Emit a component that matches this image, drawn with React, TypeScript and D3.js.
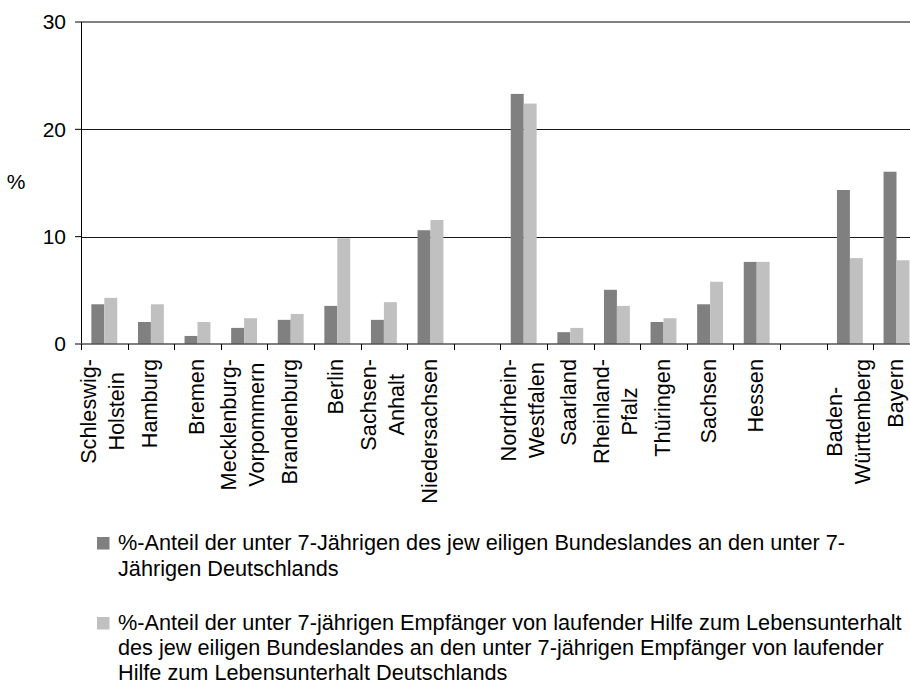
import React, { useEffect, useRef } from "react";
import * as d3 from "d3";

const categories: string[][] = [
  ["Schleswig-", "Holstein"],
  ["Hamburg"],
  ["Bremen"],
  ["Mecklenburg-", "Vorpommern"],
  ["Brandenburg"],
  ["Berlin"],
  ["Sachsen-", "Anhalt"],
  ["Niedersachsen"],
  [],
  ["Nordrhein-", "Westfalen"],
  ["Saarland"],
  ["Rheinland-", "Pfalz"],
  ["Thüringen"],
  ["Sachsen"],
  ["Hessen"],
  [],
  ["Baden-", "Württemberg"],
  ["Bayern"],
];

const seriesChildren: (number | null)[] = [
  3.7, 2.05, 0.75, 1.5, 2.25, 3.55, 2.25, 10.6, null, 23.3, 1.1, 5.05, 2.05, 3.7, 7.65, null, 14.35, 16.05,
];
const seriesAid: (number | null)[] = [
  4.3, 3.7, 2.05, 2.4, 2.8, 9.85, 3.9, 11.55, null, 22.4, 1.5, 3.55, 2.4, 5.8, 7.65, null, 8.0, 7.8,
];

const yTicks = [0, 10, 20, 30];
const yLabel = "%";

const legendItems = [
  {
    color: "#808080",
    lines: [
      "%-Anteil der unter 7-Jährigen des jew eiligen Bundeslandes an den unter 7-",
      "Jährigen Deutschlands",
    ],
  },
  {
    color: "#C0C0C0",
    lines: [
      "%-Anteil der unter 7-jährigen Empfänger von laufender Hilfe zum Lebensunterhalt",
      "des jew eiligen Bundeslandes an den unter 7-jährigen Empfänger von laufender",
      "Hilfe zum Lebensunterhalt Deutschlands",
    ],
  },
];

const W = 910;
const H = 684;
const FONT = "'Liberation Sans', Arial, sans-serif";
const FS = 21;
const FS_LABEL = 21.7;

export default function App() {
  const ref = useRef<SVGSVGElement | null>(null);

  useEffect(() => {
    const svg = d3.select(ref.current);
    svg.selectAll("*").remove();

    const left = 81;
    const right = 919.8;
    const top = 22;
    const bottom = 344;

    const idx = categories.map((_, i) => String(i));
    const x = d3.scaleBand<string>().domain(idx).range([left, right]).padding(0);
    const y = d3.scaleLinear().domain([0, 30]).range([bottom, top]);

    const step = x.step();
    const groupW = step / 1.8;
    const barW = groupW / 2;
    const off = (step - groupW) / 2;

    // gridlines
    svg
      .append("g")
      .selectAll("line")
      .data([10, 20])
      .join("line")
      .attr("x1", left)
      .attr("x2", W)
      .attr("y1", (d) => Math.round(y(d)) + 0.5)
      .attr("y2", (d) => Math.round(y(d)) + 0.5)
      .attr("stroke", "#1a1a1a")
      .attr("stroke-width", 1);

    // top border
    svg
      .append("line")
      .attr("x1", left)
      .attr("x2", W)
      .attr("y1", y(30))
      .attr("y2", y(30))
      .attr("stroke", "#808080")
      .attr("stroke-width", 2);

    // bars
    const bars = svg.append("g");
    [seriesChildren, seriesAid].forEach((series, si) => {
      bars
        .append("g")
        .selectAll("rect")
        .data(series.map((v, i) => ({ v, i })).filter((d) => d.v !== null))
        .join("rect")
        .attr("x", (d) => (x(String(d.i)) as number) + off + si * barW)
        .attr("width", barW)
        .attr("y", (d) => y(d.v as number))
        .attr("height", (d) => bottom - y(d.v as number))
        .attr("fill", si === 0 ? "#808080" : "#C0C0C0");
    });

    // axes lines
    svg
      .append("line")
      .attr("x1", left + 0.5)
      .attr("x2", left + 0.5)
      .attr("y1", top)
      .attr("y2", bottom)
      .attr("stroke", "#000")
      .attr("stroke-width", 1);
    svg
      .append("line")
      .attr("x1", left)
      .attr("x2", W)
      .attr("y1", bottom)
      .attr("y2", bottom)
      .attr("stroke", "#555")
      .attr("stroke-width", 1.5);

    // y ticks
    const yt = svg.append("g");
    yt.selectAll("line")
      .data(yTicks)
      .join("line")
      .attr("x1", left - 6)
      .attr("x2", left)
      .attr("y1", (d) => y(d))
      .attr("y2", (d) => y(d))
      .attr("stroke", "#000");
    yt.selectAll("text")
      .data(yTicks)
      .join("text")
      .attr("x", 66)
      .attr("y", (d) => y(d))
      .attr("dy", "0.35em")
      .attr("text-anchor", "end")
      .attr("font-family", FONT)
      .attr("font-size", FS)
      .attr("fill", "#000")
      .text((d) => String(d));

    svg
      .append("text")
      .attr("x", 16)
      .attr("y", 182)
      .attr("dy", "0.35em")
      .attr("text-anchor", "middle")
      .attr("font-family", FONT)
      .attr("font-size", FS)
      .text(yLabel);

    // x ticks at category boundaries
    const bounds = d3.range(categories.length + 1).map((i) => left + i * step);
    svg
      .append("g")
      .selectAll("line")
      .data(bounds)
      .join("line")
      .attr("x1", (d) => Math.round(d) + 0.5)
      .attr("x2", (d) => Math.round(d) + 0.5)
      .attr("y1", bottom)
      .attr("y2", bottom + 6)
      .attr("stroke", "#000");

    // x labels (rotated)
    const labelTop = 359;
    const lineGap = 28;
    const xl = svg.append("g");
    categories.forEach((lines, i) => {
      if (!lines.length) return;
      const cx = (x(String(i)) as number) + step / 2;
      const g = xl.append("g");
      const texts = lines.map((ln) =>
        g
          .append("text")
          .attr("font-family", FONT)
          .attr("font-size", FS_LABEL)
          .attr("fill", "#000")
          .attr("text-anchor", "middle")
          .text(ln)
      );
      const lens = texts.map((t) => (t.node() as SVGTextElement).getComputedTextLength());
      const maxLen = d3.max(lens) || 0;
      const cy = labelTop + maxLen / 2;
      const n = lines.length;
      texts.forEach((t, li) => {
        const bx = cx + 6 + (li - (n - 1) / 2) * lineGap;
        t.attr("transform", `translate(${bx},${cy}) rotate(-90)`);
      });
    });

    // legend
    const lg = svg.append("g");
    const starts = [550, 630];
    const lh = 25;
    legendItems.forEach((item, k) => {
      const by = starts[k];
      lg.append("rect")
        .attr("x", 97)
        .attr("y", by - 13)
        .attr("width", 12.5)
        .attr("height", 12.5)
        .attr("fill", item.color);
      item.lines.forEach((ln, li) => {
        lg.append("text")
          .attr("x", 118)
          .attr("y", by + li * (k === 0 ? 26 : lh))
          .attr("font-family", FONT)
          .attr("font-size", FS_LABEL)
          .attr("fill", "#000")
          .text(ln);
      });
    });
  }, []);

  return (
    <svg
      ref={ref}
      width={W}
      height={H}
      style={{ position: "fixed", left: 0, top: 0, background: "#fff" }}
    />
  );
}
